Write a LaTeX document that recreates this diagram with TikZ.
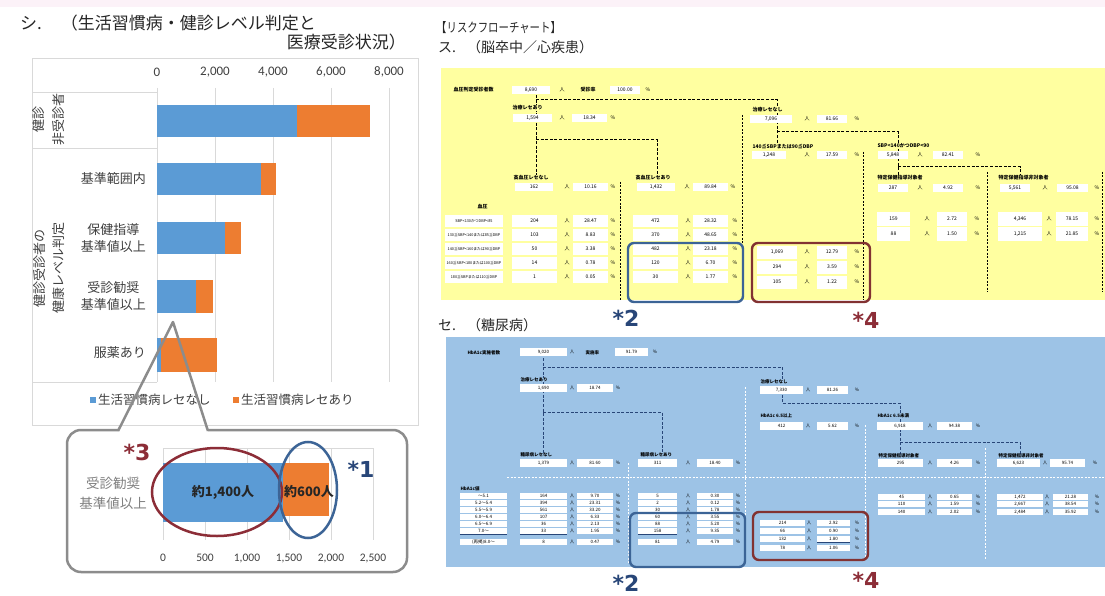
\documentclass[tikz,border=0pt]{standalone}
\usepackage{fontspec}
\usepackage{graphicx}
\setmainfont{Noto Sans CJK JP}
\newfontfamily\carl{Carlito}
\newfontfamily\dvs{DejaVu Sans}
\definecolor{xblue}{RGB}{91,155,213}
\definecolor{xorange}{RGB}{237,125,49}
\definecolor{gridc}{RGB}{217,217,217}
\definecolor{txt}{RGB}{64,64,64}
\definecolor{ylw}{RGB}{255,255,160}
\definecolor{lblue}{RGB}{157,195,230}
\definecolor{dred}{RGB}{140,45,55}
\definecolor{navy}{RGB}{40,70,120}
\definecolor{hlblue}{RGB}{60,100,150}
\definecolor{hlred}{RGB}{130,50,50}
\definecolor{pinkish}{RGB}{252,242,248}
\definecolor{cgray}{RGB}{140,140,140}
\newcommand\setcols[6]{\def\cA{#1}\def\cB{#2}\def\cC{#3}\def\cD{#4}\def\cE{#5}\def\cF{#6}}
\newcommand\vrow[5]{%
 \pgfmathsetmacro\wA{\cB-\cA}\pgfmathsetmacro\xA{(\cA+\cB)/2}%
 \pgfmathsetmacro\wB{\cE-\cD}\pgfmathsetmacro\xB{(\cD+\cE)/2}%
 \node[cellbox,minimum width=\wA pt,minimum height=#3pt] (#1v) at (\xA,#2) {#4};%
 \node[unit] (#1u) at (\cC,#2) {人};%
 \node[cellbox,minimum width=\wB pt,minimum height=#3pt] (#1p) at (\xB,#2) {#5};%
 \node[unit] (#1s) at (\cF,#2) {\%};%
}
\begin{document}
\begin{tikzpicture}[x=1pt,y=-1pt,
 ttl/.style={inner sep=0,text=black!85,font=\fontsize{17}{18}\selectfont},
 hdr/.style={inner sep=0,text=black!85,anchor=west,font=\fontsize{14}{16}\selectfont},
 cat/.style={inner sep=0,text=txt,align=center,font=\fontsize{13}{17}\selectfont},
 ax/.style={inner sep=0,text=txt,font=\carl\fontsize{13}{14}\selectfont},
 axs/.style={inner sep=0,text=txt,font=\carl\fontsize{11.5}{12}\selectfont},
 leg/.style={inner sep=0,text=txt,anchor=west,font=\fontsize{12.5}{14}\selectfont},
 gridl/.style={draw=gridc,line width=0.8pt},
 callout/.style={draw=cgray,line width=2.5pt,line join=round},
 starn/.style={inner sep=0,font=\dvs\bfseries\fontsize{22}{22}\selectfont},
 cellbox/.style={fill=white,inner sep=0,font=\fontsize{4.5}{5}\selectfont},
 unit/.style={inner sep=0,font=\fontsize{4.5}{5}\selectfont},
 lab/.style={inner sep=0.3pt,anchor=west,font=\bfseries\fontsize{4.5}{5}\selectfont},
 conn/.style={dash pattern=on 3pt off 1.6pt,line width=1pt},
 sep/.style={dash pattern=on 2pt off 1.5pt,line width=0.6pt},
 hlbox/.style={rounded corners=6pt,line width=2.4pt}
]
\useasboundingbox (0,0) rectangle (1105,596);
\fill[white] (0,0) rectangle (1105,596);
\fill[pinkish] (0,0) rectangle (1105,7);

% ---------- left titles ----------
\node[ttl,anchor=west] (t1) at (20,23) {シ.\hspace{19pt}（生活習慣病・健診レベル判定と};
\node[ttl,anchor=east] (t2) at (406,42) {医療受診状況）};

% ---------- left chart ----------
\draw[gridl] (32,58) rectangle (418,425);
\draw[gridl] (32,92) -- (157,92);
\draw[gridl] (32,148) -- (157,148);
\draw[gridl] (32,382) -- (157,382);
\foreach \gx in {157,215,273,331,389} {\draw[gridl] (\gx,88) -- (\gx,382);}
\node[ax] (a0) at (157,72) {0};
\node[ax] (a1) at (215,72) {2,000};
\node[ax] (a2) at (273,72) {4,000};
\node[ax] (a3) at (331,72) {6,000};
\node[ax] (a4) at (389,72) {8,000};
\fill[xblue] (157,105) rectangle (297,137); \fill[xorange] (297,105) rectangle (370,137);
\fill[xblue] (157,163) rectangle (261,195); \fill[xorange] (261,163) rectangle (276,195);
\fill[xblue] (157,222) rectangle (225,254); \fill[xorange] (225,222) rectangle (241,254);
\fill[xblue] (157,280) rectangle (196,313); \fill[xorange] (196,280) rectangle (213,313);
\fill[xblue] (157,338) rectangle (161,372); \fill[xorange] (161,338) rectangle (217,372);
\node[cat,rotate=90,font=\fontsize{13}{20}\selectfont] (c1) at (49,120) {健診\\非受診者};
\node[cat,rotate=90,font=\fontsize{13}{19}\selectfont] (c6) at (49,268) {健診受診者の\\健康レベル判定};
\node[cat,anchor=east] (c2) at (146,179) {基準範囲内};
\node[cat,anchor=east] (c3) at (146,238) {保健指導\\基準値以上};
\node[cat,anchor=east] (c4) at (146,296) {受診勧奨\\基準値以上};
\node[cat,anchor=east] (c5) at (146,353) {服薬あり};
\fill[xblue] (90,397) rectangle (96,403);
\node[leg] (lg1) at (98,400) {生活習慣病レセなし};
\fill[xorange] (233,397) rectangle (239,403);
\node[leg] (lg2) at (241,400) {生活習慣病レセあり};

% ---------- callout ----------
\draw[callout,rounded corners=14pt] (118,430) -- (67,430) -- (67,572) -- (407,572) -- (407,430) -- (208,430);
\draw[callout] (208,431) -- (173,322) -- (118,431);
\draw[gridl] (163,448) -- (373,448);
\foreach \gx in {163,205,247,289,331,373} {\draw[gridl] (\gx,448) -- (\gx,540);}
\fill[xblue] (163,463) rectangle (283,522);
\fill[xorange] (283,463) rectangle (329,516);
\node[inner sep=0,font=\bfseries\fontsize{13}{14}\selectfont,text=black!85] (n1) at (223,492) {約1,400人};
\node[inner sep=0,font=\bfseries\fontsize{13}{14}\selectfont,text=black!85] (n2) at (309,492) {約600人};
\node[inner sep=0,align=center,text=black!50,font=\fontsize{13.5}{20}\selectfont] (cl) at (113,493) {受診勧奨\\基準値以上};
\draw[dred,line width=2.5pt] (217,492) ellipse [x radius=65,y radius=44];
\draw[hlblue,line width=2.5pt] (308,490) ellipse [x radius=29,y radius=48];
\node[starn,text=dred] (s3) at (137,452) {*3};
\node[starn,text=navy] (s1) at (361,469) {*1};
\node[axs] (b0) at (163,558) {0};
\node[axs] (b1) at (205,558) {500};
\node[axs] (b2) at (247,558) {1,000};
\node[axs] (b3) at (289,558) {1,500};
\node[axs] (b4) at (331,558) {2,000};
\node[axs] (b5) at (373,558) {2,500};

% ---------- right headers ----------
\node[inner sep=0,anchor=west,text=black!85] (h0) at (436,28) {\scalebox{0.8}[1]{\fontsize{13}{14}\selectfont 【リスクフローチャート】}};
\node[hdr] (h1) at (438,47) {ス.\hspace{11pt}（脳卒中／心疾患）};
\node[hdr] (h2) at (438,325) {セ.\hspace{11pt}（糖尿病）};

% ---------- yellow flowchart ----------
\fill[ylw] (441,68) rectangle (1105,300);
\begin{scope}[lab/.append style={fill=ylw,font=\bfseries\fontsize{5}{5}\selectfont},cellbox/.append style={font=\fontsize{5}{5}\selectfont},unit/.append style={font=\fontsize{5}{5}\selectfont}]
\coordinate (ya1) at (536,95); \coordinate (ya2) at (536,176);
\coordinate (ya3) at (536,100); \coordinate (ya4) at (777,100); \coordinate (ya5) at (777,146);
\coordinate (ya6) at (536,140); \coordinate (ya7) at (657,140); \coordinate (ya8) at (657,176);
\coordinate (ya9) at (777,132); \coordinate (ya10) at (898,132); \coordinate (ya11) at (898,176);
\coordinate (ya12) at (898,167); \coordinate (ya13) at (1020,167); \coordinate (ya14) at (1020,177);
\draw[conn] (ya1) -- (ya2);
\draw[conn] (ya3) -- (ya4) -- (ya5);
\draw[conn] (ya6) -- (ya7) -- (ya8);
\draw[conn] (ya9) -- (ya10) -- (ya11);
\draw[conn] (ya12) -- (ya13) -- (ya14);
\coordinate (ys1a) at (620,182); \coordinate (ys1b) at (620,300);
\coordinate (ys2a) at (742,115); \coordinate (ys2b) at (742,300);
\coordinate (ys3a) at (863,152); \coordinate (ys3b) at (863,300);
\coordinate (ys4a) at (987,172); \coordinate (ys4b) at (987,292);
\coordinate (ys5a) at (1102,172); \coordinate (ys5b) at (1102,292);
\draw[sep] (ys1a) -- (ys1b); \draw[sep] (ys2a) -- (ys2b); \draw[sep] (ys3a) -- (ys3b);
\draw[sep] (ys4a) -- (ys4b); \draw[sep] (ys5a) -- (ys5b);

\node[lab] (y0l) at (453,90) {血圧判定受診者数};
\node[cellbox,minimum width=38pt,minimum height=8pt] (y0v) at (531,90) {8,690};
\node[unit] (y0u) at (562,90) {人};
\node[lab] (y0r) at (580,90) {受診率};
\node[cellbox,minimum width=30pt,minimum height=8pt] (y0p) at (625,90) {100.00};
\node[unit] (y0s) at (648,90) {\%};
\node[lab] (y1l) at (512,108) {治療レセあり};
\setcols{513}{552}{562}{572}{607}{613}\vrow{y1}{118}{8}{1,594}{18.34}
\node[lab] (y2l) at (752,110) {治療レセなし};
\setcols{750}{792}{807}{817}{847}{857}\vrow{y2}{119}{8}{7,096}{81.66}
\node[lab] (y3l) at (752,147) {140≦SBPまたは90≦DBP};
\setcols{752}{786}{807}{817}{847}{857}\vrow{y3}{155}{8}{1,248}{17.59}
\node[lab] (y4l) at (877,146) {SBP<140かつDBP<90};
\setcols{878}{908}{920}{933}{963}{978}\vrow{y4}{155}{8}{5,848}{82.41}
\node[lab] (y5l) at (877,178) {特定保健指導対象者};
\vrow{y5}{188}{8}{287}{4.92}
\node[lab] (y6l) at (998,178) {特定保健指導非対象者};
\setcols{1000}{1030}{1045}{1057}{1088}{1097}\vrow{y6}{188}{8}{5,561}{95.08}
\node[lab] (y7l) at (513,178) {高血圧レセなし};
\setcols{515}{553}{567}{573}{608}{613}\vrow{y7}{187}{8}{162}{10.16}
\node[lab] (y8l) at (635,178) {高血圧レセあり};
\setcols{637}{675}{687}{693}{728}{733}\vrow{y8}{187}{8}{1,432}{89.84}
\node[lab] (y9l) at (477,207) {血圧};
\begin{scope}[cellbox/.append style={font=\fontsize{3.8}{4}\selectfont,minimum width=58pt,minimum height=12.5pt}]
\node[cellbox] (yr1) at (474,221) {SBP<130かつDBP<85};
\node[cellbox] (yr2) at (474,235) {130≦SBP<140または85≦DBP};
\node[cellbox] (yr3) at (474,249) {140≦SBP<160または90≦DBP};
\node[cellbox] (yr4) at (474,263) {160≦SBP<180または100≦DBP};
\node[cellbox] (yr5) at (474,277) {180≦SBPまたは110≦DBP};
\end{scope}
\setcols{512}{557}{567}{573}{608}{613}
\vrow{ya}{221}{12.5}{204}{28.47}
\vrow{yb}{235}{12.5}{103}{8.83}
\vrow{yc}{249}{12.5}{50}{3.38}
\vrow{yd}{263}{12.5}{14}{0.78}
\vrow{ye}{277}{12.5}{1}{0.05}
\setcols{633}{678}{688}{693}{728}{735}
\vrow{yf}{221}{12.5}{472}{28.32}
\vrow{yg}{235}{12.5}{370}{48.65}
\vrow{yh}{249}{12.5}{482}{23.18}
\vrow{yi}{263}{12.5}{120}{6.70}
\vrow{yj}{277}{12.5}{30}{1.77}
\setcols{757}{797}{807}{817}{847}{857}
\vrow{yk}{252}{13}{1,069}{12.79}
\vrow{yl}{267}{13}{294}{3.59}
\vrow{ym}{282}{13}{105}{1.22}
\setcols{877}{910}{927}{937}{967}{977}
\vrow{yn}{219}{14.5}{159}{2.72}
\vrow{yo}{234}{14.5}{88}{1.50}
\setcols{998}{1042}{1049}{1056}{1088}{1097}
\vrow{yp}{219}{14.5}{4,346}{78.15}
\vrow{yq}{234}{14.5}{1,215}{21.85}
\end{scope}
\draw[hlblue,hlbox] (628,243) rectangle (743,302);
\draw[hlred,hlbox] (752,243) rectangle (870,302);
\node[starn,text=navy] (s2a) at (626,318) {*2};
\node[starn,text=dred] (s4a) at (866,320) {*4};

% ---------- blue flowchart ----------
\fill[lblue] (446,337) rectangle (1105,567);
\begin{scope}[lab/.append style={fill=lblue},conn/.append style={draw=navy},sep/.append style={draw=white,line width=0.8pt}]
\coordinate (ba1) at (543,358); \coordinate (ba2) at (543,453);
\coordinate (ba3) at (543,367); \coordinate (ba4) at (782,367); \coordinate (ba5) at (782,403);
\coordinate (ba6) at (900,403); \coordinate (ba7) at (900,455);
\coordinate (ba8) at (543,412); \coordinate (ba9) at (662,412); \coordinate (ba10) at (662,453);
\coordinate (ba11) at (900,442); \coordinate (ba12) at (1020,442); \coordinate (ba13) at (1020,455);
\draw[conn] (ba1) -- (ba2);
\draw[conn] (ba3) -- (ba4) -- (ba5) -- (ba6) -- (ba7);
\draw[conn] (ba8) -- (ba9) -- (ba10);
\draw[conn] (ba11) -- (ba12) -- (ba13);
\coordinate (bs0a) at (507,477); \coordinate (bs0b) at (1105,477);
\coordinate (bs1a) at (628,463); \coordinate (bs1b) at (628,563);
\coordinate (bs2a) at (745,387); \coordinate (bs2b) at (745,560);
\coordinate (bs3a) at (865,425); \coordinate (bs3b) at (865,560);
\coordinate (bs4a) at (985,448); \coordinate (bs4b) at (985,560);
\draw[sep] (bs0a) -- (bs0b); \draw[sep] (bs1a) -- (bs1b); \draw[sep] (bs2a) -- (bs2b);
\draw[sep] (bs3a) -- (bs3b); \draw[sep] (bs4a) -- (bs4b);

\node[lab] (b0l) at (467,353) {HbA1c実施者数};
\node[cellbox,minimum width=47pt,minimum height=7.5pt] (b0v) at (543.5,352) {9,020};
\node[unit] (b0u) at (572,352) {人};
\node[lab] (b0r) at (585,353) {実施率};
\node[cellbox,minimum width=33pt,minimum height=7.5pt] (b0p) at (631.5,352) {91.79};
\node[unit] (b0s) at (655,352) {\%};
\node[lab] (b1l) at (520,380) {治療レセあり};
\setcols{520}{567}{572}{577}{613}{618}\vrow{b1}{388}{7.5}{1,690}{18.74}
\node[lab] (b2l) at (760,382) {治療レセなし};
\setcols{760}{803}{808}{817}{848}{857}\vrow{b2}{390}{7.5}{7,330}{81.26}
\node[lab] (b3l) at (760,416) {HbA1c 6.5以上};
\vrow{b3}{426}{7.5}{412}{5.62}
\node[lab] (b4l) at (877,416) {HbA1c 6.5未満};
\setcols{877}{923}{930}{937}{972}{978}\vrow{b4}{426}{7.5}{6,918}{94.38}
\node[lab] (b5l) at (878,456) {特定保健指導対象者};
\setcols{878}{923}{930}{937}{972}{978}\vrow{b5}{463}{7.5}{295}{4.26}
\node[lab] (b6l) at (998,456) {特定保健指導非対象者};
\setcols{997}{1040}{1045}{1050}{1085}{1095}\vrow{b6}{463}{7.5}{6,623}{95.74}
\node[lab] (b7l) at (520,455) {糖尿病レセなし};
\setcols{520}{567}{572}{577}{613}{618}\vrow{b7}{463}{7.5}{1,379}{81.60}
\node[lab] (b8l) at (640,455) {糖尿病レセあり};
\setcols{638}{677}{688}{697}{733}{738}\vrow{b8}{463}{7.5}{311}{18.40}
\node[lab] (b9l) at (460,489) {HbA1c値};
\begin{scope}[cellbox/.append style={minimum width=47pt,minimum height=6.2pt}]
\node[cellbox] (br1) at (483.5,496) {～5.1};
\node[cellbox] (br2) at (483.5,503) {5.2～5.4};
\node[cellbox] (br3) at (483.5,510) {5.5～5.9};
\node[cellbox] (br4) at (483.5,517) {6.0～6.4};
\node[cellbox] (br5) at (483.5,524) {6.5～6.9};
\node[cellbox] (br6) at (483.5,531) {7.0～};
\node[cellbox] (br7) at (483.5,542) {(再掲)8.0～};
\end{scope}
\setcols{520}{567}{572}{577}{613}{618}
\vrow{bc1}{496}{6.2}{164}{9.70}
\vrow{bc2}{503}{6.2}{394}{23.31}
\vrow{bc3}{510}{6.2}{561}{33.20}
\vrow{bc4}{517}{6.2}{107}{6.33}
\vrow{bc5}{524}{6.2}{36}{2.13}
\vrow{bc6}{531}{6.2}{33}{1.95}
\vrow{bc7}{542}{6.2}{8}{0.47}
\setcols{638}{677}{688}{697}{733}{738}
\vrow{bd1}{496}{6.2}{5}{0.30}
\vrow{bd2}{503}{6.2}{2}{0.12}
\vrow{bd3}{510}{6.2}{30}{1.78}
\vrow{bd4}{517}{6.2}{60}{3.55}
\vrow{bd5}{524}{6.2}{88}{5.20}
\vrow{bd6}{531}{6.2}{158}{9.35}
\vrow{bd7}{542}{6.2}{81}{4.79}
\setcols{760}{805}{809}{817}{850}{857}
\vrow{be1}{523}{6.5}{214}{2.92}
\vrow{be2}{531}{6.5}{66}{0.90}
\vrow{be3}{539}{6.5}{132}{1.80}
\vrow{be4}{548}{6.5}{78}{1.06}
\setcols{878}{925}{930}{937}{972}{978}
\vrow{bf1}{497}{6.5}{45}{0.65}
\vrow{bf2}{504}{6.5}{110}{1.59}
\vrow{bf3}{512}{6.5}{140}{2.02}
\setcols{997}{1043}{1047}{1053}{1088}{1097}
\vrow{bg1}{497}{6.5}{1,472}{21.28}
\vrow{bg2}{504}{6.5}{2,667}{38.54}
\vrow{bg3}{512}{6.5}{2,484}{35.92}
\draw[navy,line width=0.7pt] (br6.south west) -- (br6.south east);
\draw[navy,line width=0.7pt] (bc6v.south west) -- (bc6v.south east);
\draw[navy,line width=0.7pt] (bd6v.south west) -- (bd6v.south east);
\draw[navy,line width=0.7pt] (be3p.south west) -- (be3p.south east);
\end{scope}
\draw[hlblue,hlbox] (630,513) rectangle (745,567);
\draw[hlred,hlbox] (753,512) rectangle (868,560);
\node[starn,text=navy] (s2b) at (626,583) {*2};
\node[starn,text=dred] (s4b) at (866,580) {*4};
\end{tikzpicture}
\end{document}
